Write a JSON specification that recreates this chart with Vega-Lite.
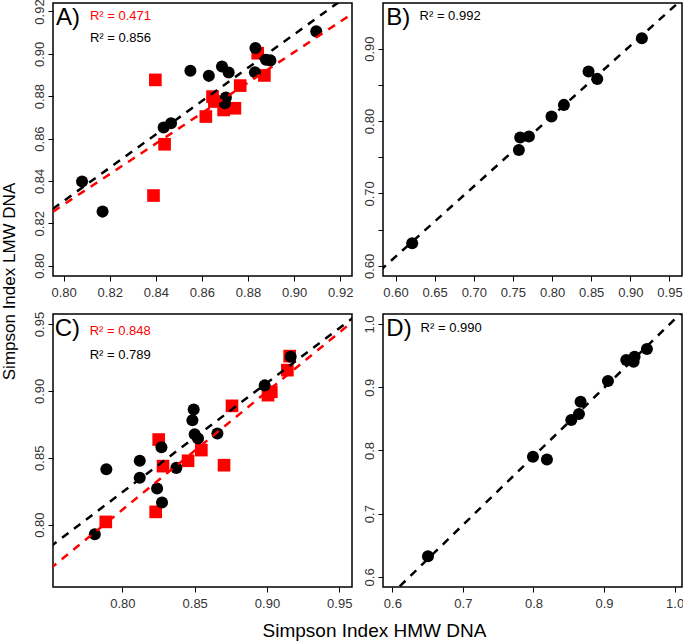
{
  "$schema": "https://vega.github.io/schema/vega-lite/v6.json",
  "padding": {"left": -1, "top": -2, "right": 0, "bottom": 0},
  "background": "white",
  "datasets": {
    "points": [
      {"panel": "A", "series": "s1", "hmw": 0.808, "lmw": 0.8397},
      {"panel": "A", "series": "s1", "hmw": 0.8169, "lmw": 0.8255},
      {"panel": "A", "series": "s1", "hmw": 0.8434, "lmw": 0.8652},
      {"panel": "A", "series": "s1", "hmw": 0.8466, "lmw": 0.8672},
      {"panel": "A", "series": "s1", "hmw": 0.855, "lmw": 0.892},
      {"panel": "A", "series": "s1", "hmw": 0.863, "lmw": 0.8896},
      {"panel": "A", "series": "s1", "hmw": 0.8687, "lmw": 0.894},
      {"panel": "A", "series": "s1", "hmw": 0.8716, "lmw": 0.8912},
      {"panel": "A", "series": "s1", "hmw": 0.8704, "lmw": 0.8794},
      {"panel": "A", "series": "s1", "hmw": 0.87, "lmw": 0.8767},
      {"panel": "A", "series": "s1", "hmw": 0.8832, "lmw": 0.9027},
      {"panel": "A", "series": "s1", "hmw": 0.883, "lmw": 0.8913},
      {"panel": "A", "series": "s1", "hmw": 0.8878, "lmw": 0.8972},
      {"panel": "A", "series": "s1", "hmw": 0.8897, "lmw": 0.8969},
      {"panel": "A", "series": "s1", "hmw": 0.9096, "lmw": 0.9106},
      {"panel": "A", "series": "s2", "hmw": 0.8398, "lmw": 0.8877},
      {"panel": "A", "series": "s2", "hmw": 0.8438, "lmw": 0.8573},
      {"panel": "A", "series": "s2", "hmw": 0.839, "lmw": 0.8331},
      {"panel": "A", "series": "s2", "hmw": 0.8617, "lmw": 0.8704},
      {"panel": "A", "series": "s2", "hmw": 0.8646, "lmw": 0.8798},
      {"panel": "A", "series": "s2", "hmw": 0.8654, "lmw": 0.8775},
      {"panel": "A", "series": "s2", "hmw": 0.8694, "lmw": 0.8735},
      {"panel": "A", "series": "s2", "hmw": 0.8743, "lmw": 0.8743},
      {"panel": "A", "series": "s2", "hmw": 0.8766, "lmw": 0.885},
      {"panel": "A", "series": "s2", "hmw": 0.8842, "lmw": 0.9003},
      {"panel": "A", "series": "s2", "hmw": 0.8871, "lmw": 0.8898},
      {"panel": "B", "series": "s1", "hmw": 0.6213, "lmw": 0.6313},
      {"panel": "B", "series": "s1", "hmw": 0.7576, "lmw": 0.7601},
      {"panel": "B", "series": "s1", "hmw": 0.7593, "lmw": 0.7772},
      {"panel": "B", "series": "s1", "hmw": 0.7704, "lmw": 0.7786},
      {"panel": "B", "series": "s1", "hmw": 0.7993, "lmw": 0.8062},
      {"panel": "B", "series": "s1", "hmw": 0.8151, "lmw": 0.8223},
      {"panel": "B", "series": "s1", "hmw": 0.8466, "lmw": 0.8683},
      {"panel": "B", "series": "s1", "hmw": 0.8577, "lmw": 0.8582},
      {"panel": "B", "series": "s1", "hmw": 0.9147, "lmw": 0.9143},
      {"panel": "C", "series": "s1", "hmw": 0.7809, "lmw": 0.7928},
      {"panel": "C", "series": "s1", "hmw": 0.7889, "lmw": 0.8414},
      {"panel": "C", "series": "s1", "hmw": 0.812, "lmw": 0.8477},
      {"panel": "C", "series": "s1", "hmw": 0.812, "lmw": 0.835},
      {"panel": "C", "series": "s1", "hmw": 0.824, "lmw": 0.827},
      {"panel": "C", "series": "s1", "hmw": 0.827, "lmw": 0.8579},
      {"panel": "C", "series": "s1", "hmw": 0.8274, "lmw": 0.8165},
      {"panel": "C", "series": "s1", "hmw": 0.8373, "lmw": 0.8424},
      {"panel": "C", "series": "s1", "hmw": 0.8493, "lmw": 0.8861},
      {"panel": "C", "series": "s1", "hmw": 0.8484, "lmw": 0.8781},
      {"panel": "C", "series": "s1", "hmw": 0.85, "lmw": 0.8676},
      {"panel": "C", "series": "s1", "hmw": 0.8523, "lmw": 0.8644},
      {"panel": "C", "series": "s1", "hmw": 0.8657, "lmw": 0.8681},
      {"panel": "C", "series": "s1", "hmw": 0.8984, "lmw": 0.9041},
      {"panel": "C", "series": "s1", "hmw": 0.9164, "lmw": 0.9255},
      {"panel": "C", "series": "s2", "hmw": 0.7885, "lmw": 0.802},
      {"panel": "C", "series": "s2", "hmw": 0.823, "lmw": 0.8095},
      {"panel": "C", "series": "s2", "hmw": 0.8251, "lmw": 0.8636},
      {"panel": "C", "series": "s2", "hmw": 0.8281, "lmw": 0.8437},
      {"panel": "C", "series": "s2", "hmw": 0.8454, "lmw": 0.8477},
      {"panel": "C", "series": "s2", "hmw": 0.8546, "lmw": 0.8557},
      {"panel": "C", "series": "s2", "hmw": 0.8703, "lmw": 0.8444},
      {"panel": "C", "series": "s2", "hmw": 0.8758, "lmw": 0.8888},
      {"panel": "C", "series": "s2", "hmw": 0.9007, "lmw": 0.8968},
      {"panel": "C", "series": "s2", "hmw": 0.903, "lmw": 0.8993},
      {"panel": "C", "series": "s2", "hmw": 0.9141, "lmw": 0.9155},
      {"panel": "C", "series": "s2", "hmw": 0.9157, "lmw": 0.926},
      {"panel": "D", "series": "s1", "hmw": 0.6505, "lmw": 0.6327},
      {"panel": "D", "series": "s1", "hmw": 0.7993, "lmw": 0.79},
      {"panel": "D", "series": "s1", "hmw": 0.8191, "lmw": 0.7858},
      {"panel": "D", "series": "s1", "hmw": 0.8536, "lmw": 0.848},
      {"panel": "D", "series": "s1", "hmw": 0.8645, "lmw": 0.8575},
      {"panel": "D", "series": "s1", "hmw": 0.8668, "lmw": 0.877},
      {"panel": "D", "series": "s1", "hmw": 0.9056, "lmw": 0.9098},
      {"panel": "D", "series": "s1", "hmw": 0.9315, "lmw": 0.943},
      {"panel": "D", "series": "s1", "hmw": 0.9419, "lmw": 0.9404},
      {"panel": "D", "series": "s1", "hmw": 0.9433, "lmw": 0.9483},
      {"panel": "D", "series": "s1", "hmw": 0.9608, "lmw": 0.9604}
    ],
    "lines": [
      {"panel": "A", "series": "s1", "hmw": 0.79, "lmw": 0.8226},
      {"panel": "A", "series": "s1", "hmw": 0.93, "lmw": 0.9328},
      {"panel": "A", "series": "s2", "hmw": 0.79, "lmw": 0.8216},
      {"panel": "A", "series": "s2", "hmw": 0.93, "lmw": 0.9224},
      {"panel": "B", "series": "s1", "hmw": 0.58, "lmw": 0.5932},
      {"panel": "B", "series": "s1", "hmw": 0.97, "lmw": 0.9719},
      {"panel": "C", "series": "s1", "hmw": 0.75, "lmw": 0.7833},
      {"panel": "C", "series": "s1", "hmw": 0.96, "lmw": 0.9551},
      {"panel": "C", "series": "s2", "hmw": 0.75, "lmw": 0.7669},
      {"panel": "C", "series": "s2", "hmw": 0.96, "lmw": 0.9525},
      {"panel": "D", "series": "s1", "hmw": 0.58, "lmw": 0.552},
      {"panel": "D", "series": "s1", "hmw": 1.02, "lmw": 1.029}
    ],
    "notes": [
      {"panel": "A", "kind": "tag", "series": "s1", "label": "A)", "hmw": 0.7967, "lmw": 0.9137},
      {"panel": "A", "kind": "r2", "series": "s2", "label": "R² = 0.471", "hmw": 0.8114, "lmw": 0.9161},
      {"panel": "A", "kind": "r2", "series": "s1", "label": "R² = 0.856", "hmw": 0.8114, "lmw": 0.9054},
      {"panel": "B", "kind": "tag", "series": "s1", "label": "B)", "hmw": 0.5881, "lmw": 0.9329},
      {"panel": "B", "kind": "r2", "series": "s1", "label": "R² = 0.992", "hmw": 0.6307, "lmw": 0.9398},
      {"panel": "C", "kind": "tag", "series": "s1", "label": "C)", "hmw": 0.7532, "lmw": 0.9407},
      {"panel": "C", "kind": "r2", "series": "s2", "label": "R² = 0.848", "hmw": 0.7774, "lmw": 0.9417},
      {"panel": "C", "kind": "r2", "series": "s1", "label": "R² = 0.789", "hmw": 0.7774, "lmw": 0.9242},
      {"panel": "D", "kind": "tag", "series": "s1", "label": "D)", "hmw": 0.5915, "lmw": 0.9804},
      {"panel": "D", "kind": "r2", "series": "s1", "label": "R² = 0.990", "hmw": 0.6401, "lmw": 0.9877}
    ]
  },
  "columns": 2,
  "spacing": {"row": 38, "column": 31},
  "bounds": "flush",
  "resolve": {"scale": {"x": "independent", "y": "independent"}},
  "concat": [
    {
      "width": 299, "height": 273,
      "encoding": {
        "x": {"field": "hmw", "type": "quantitative", "scale": {"domain": [0.7954, 0.9251], "nice": false, "zero": false}, "axis": {"values": [0.8, 0.82, 0.84, 0.86, 0.88, 0.9, 0.92], "format": ".2f", "title": null}},
        "y": {"field": "lmw", "type": "quantitative", "scale": {"domain": [0.7951, 0.924], "nice": false, "zero": false}, "axis": {"values": [0.8, 0.82, 0.84, 0.86, 0.88, 0.9, 0.92], "format": ".2f", "title": "Simpson Index LMW DNA", "titleX": -43.7, "titleY": 278, "titleAngle": 270, "titleBaseline": "middle", "titleAlign": "center", "titleFontSize": 17, "titleFontWeight": "normal", "titleColor": "black"}}
      },
      "layer": [
        {"data": {"name": "points"}, "transform": [{"filter": "datum.panel === 'A' && datum.series === 's2'"}], "mark": {"type": "square", "size": 160, "opacity": 1}, "encoding": {"color": {"field": "series", "type": "nominal", "scale": {"domain": ["s1", "s2"], "range": ["black", "#ff0000"]}, "legend": null}}},
        {"data": {"name": "points"}, "transform": [{"filter": "datum.panel === 'A' && datum.series === 's1'"}], "mark": {"type": "circle", "size": 145, "opacity": 1}, "encoding": {"color": {"field": "series", "type": "nominal", "legend": null}}},
        {"data": {"name": "lines"}, "transform": [{"filter": "datum.panel === 'A'"}], "mark": {"type": "line", "clip": true, "strokeWidth": 2.5, "strokeDash": [8, 7]}, "encoding": {"color": {"field": "series", "type": "nominal", "legend": null}}},
        {"data": {"name": "notes"}, "transform": [{"filter": "datum.panel === 'A' && datum.kind === 'tag'"}], "mark": {"type": "text", "align": "left", "baseline": "alphabetic", "fontSize": 24, "color": "black"}, "encoding": {"text": {"field": "label"}}},
        {"data": {"name": "notes"}, "transform": [{"filter": "datum.panel === 'A' && datum.kind === 'r2'"}], "mark": {"type": "text", "align": "left", "baseline": "alphabetic", "fontSize": 13}, "encoding": {"text": {"field": "label"}, "color": {"field": "series", "type": "nominal", "legend": null}}}
      ]
    },
    {
      "width": 299, "height": 273,
      "encoding": {
        "x": {"field": "hmw", "type": "quantitative", "scale": {"domain": [0.584, 0.966], "nice": false, "zero": false}, "axis": {"values": [0.6, 0.65, 0.7, 0.75, 0.8, 0.85, 0.9, 0.95], "format": ".2f", "title": null}},
        "y": {"field": "lmw", "type": "quantitative", "scale": {"domain": [0.586, 0.963], "nice": false, "zero": false}, "axis": {"values": [0.6, 0.65, 0.7, 0.75, 0.8, 0.85, 0.9], "format": ".2f", "labelExpr": "abs(datum.value * 10 - round(datum.value * 10)) < 0.001 ? datum.label : ''", "title": null}}
      },
      "layer": [
        {"data": {"name": "points"}, "transform": [{"filter": "datum.panel === 'B' && datum.series === 's1'"}], "mark": {"type": "circle", "size": 145, "opacity": 1}, "encoding": {"color": {"field": "series", "type": "nominal", "legend": null}}},
        {"data": {"name": "lines"}, "transform": [{"filter": "datum.panel === 'B'"}], "mark": {"type": "line", "clip": true, "strokeWidth": 2.5, "strokeDash": [8, 7]}, "encoding": {"color": {"field": "series", "type": "nominal", "legend": null}}},
        {"data": {"name": "notes"}, "transform": [{"filter": "datum.panel === 'B' && datum.kind === 'tag'"}], "mark": {"type": "text", "align": "left", "baseline": "alphabetic", "fontSize": 24, "color": "black"}, "encoding": {"text": {"field": "label"}}},
        {"data": {"name": "notes"}, "transform": [{"filter": "datum.panel === 'B' && datum.kind === 'r2'"}], "mark": {"type": "text", "align": "left", "baseline": "alphabetic", "fontSize": 13}, "encoding": {"text": {"field": "label"}, "color": {"field": "series", "type": "nominal", "legend": null}}}
      ]
    },
    {
      "width": 299, "height": 273,
      "encoding": {
        "x": {"field": "hmw", "type": "quantitative", "scale": {"domain": [0.752, 0.9588], "nice": false, "zero": false}, "axis": {"values": [0.8, 0.85, 0.9, 0.95], "format": ".2f", "title": "Simpson Index HMW DNA", "titleX": 321, "titleY": 49, "titleBaseline": "alphabetic", "titleAlign": "center", "titleAnchor": null, "titleFontSize": 19, "titleFontWeight": "normal", "titleColor": "black"}},
        "y": {"field": "lmw", "type": "quantitative", "scale": {"domain": [0.7533, 0.9575], "nice": false, "zero": false}, "axis": {"values": [0.8, 0.85, 0.9, 0.95], "format": ".2f", "title": null}}
      },
      "layer": [
        {"data": {"name": "points"}, "transform": [{"filter": "datum.panel === 'C' && datum.series === 's2'"}], "mark": {"type": "square", "size": 160, "opacity": 1}, "encoding": {"color": {"field": "series", "type": "nominal", "legend": null}}},
        {"data": {"name": "points"}, "transform": [{"filter": "datum.panel === 'C' && datum.series === 's1'"}], "mark": {"type": "circle", "size": 145, "opacity": 1}, "encoding": {"color": {"field": "series", "type": "nominal", "legend": null}}},
        {"data": {"name": "lines"}, "transform": [{"filter": "datum.panel === 'C'"}], "mark": {"type": "line", "clip": true, "strokeWidth": 2.5, "strokeDash": [8, 7]}, "encoding": {"color": {"field": "series", "type": "nominal", "legend": null}}},
        {"data": {"name": "notes"}, "transform": [{"filter": "datum.panel === 'C' && datum.kind === 'tag'"}], "mark": {"type": "text", "align": "left", "baseline": "alphabetic", "fontSize": 24, "color": "black"}, "encoding": {"text": {"field": "label"}}},
        {"data": {"name": "notes"}, "transform": [{"filter": "datum.panel === 'C' && datum.kind === 'r2'"}], "mark": {"type": "text", "align": "left", "baseline": "alphabetic", "fontSize": 13}, "encoding": {"text": {"field": "label"}, "color": {"field": "series", "type": "nominal", "legend": null}}}
      ]
    },
    {
      "width": 299, "height": 273,
      "encoding": {
        "x": {"field": "hmw", "type": "quantitative", "scale": {"domain": [0.5868, 1.0105], "nice": false, "zero": false}, "axis": {"values": [0.6, 0.7, 0.8, 0.9, 1.0], "format": ".1f", "title": null}},
        "y": {"field": "lmw", "type": "quantitative", "scale": {"domain": [0.584, 1.0158], "nice": false, "zero": false}, "axis": {"values": [0.6, 0.7, 0.8, 0.9, 1.0], "format": ".1f", "title": null}}
      },
      "layer": [
        {"data": {"name": "points"}, "transform": [{"filter": "datum.panel === 'D' && datum.series === 's1'"}], "mark": {"type": "circle", "size": 145, "opacity": 1}, "encoding": {"color": {"field": "series", "type": "nominal", "legend": null}}},
        {"data": {"name": "lines"}, "transform": [{"filter": "datum.panel === 'D'"}], "mark": {"type": "line", "clip": true, "strokeWidth": 2.5, "strokeDash": [8, 7]}, "encoding": {"color": {"field": "series", "type": "nominal", "legend": null}}},
        {"data": {"name": "notes"}, "transform": [{"filter": "datum.panel === 'D' && datum.kind === 'tag'"}], "mark": {"type": "text", "align": "left", "baseline": "alphabetic", "fontSize": 24, "color": "black"}, "encoding": {"text": {"field": "label"}}},
        {"data": {"name": "notes"}, "transform": [{"filter": "datum.panel === 'D' && datum.kind === 'r2'"}], "mark": {"type": "text", "align": "left", "baseline": "alphabetic", "fontSize": 13}, "encoding": {"text": {"field": "label"}, "color": {"field": "series", "type": "nominal", "legend": null}}}
      ]
    }
  ],
  "config": {
    "font": "Liberation Sans",
    "view": {"stroke": "black", "strokeWidth": 1.5},
    "axis": {"domain": false, "grid": false, "ticks": true, "tickColor": "black", "tickSize": 5, "tickWidth": 1, "labelFontSize": 13, "labelColor": "#333", "labelFlush": false, "labelOverlap": false},
    "axisX": {"labelPadding": 5},
    "axisY": {"labelAngle": -90, "labelAlign": "center", "labelBaseline": "bottom", "labelPadding": 2}
  }
}
